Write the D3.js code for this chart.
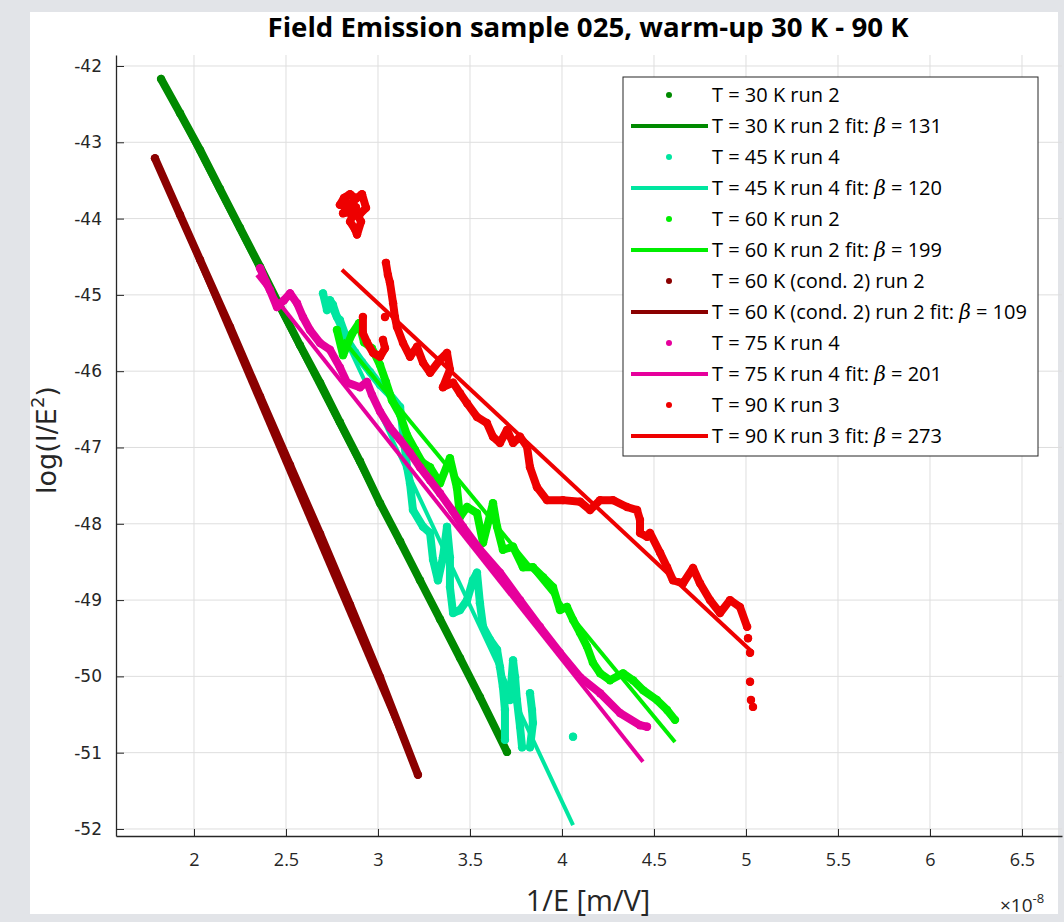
<!DOCTYPE html>
<html>
<head>
<meta charset="utf-8">
<script src="https://cdn.jsdelivr.net/npm/d3@7"></script>
<style>
body{margin:0;background:#e4e6ea;}
svg{display:block;}
</style>
</head>
<body>
<div id="plot"></div>
<script>
// ---- data ----
var xTicks = [2, 2.5, 3, 3.5, 4, 4.5, 5, 5.5, 6, 6.5];
var yTicks = [-42, -43, -44, -45, -46, -47, -48, -49, -50, -51, -52];

var labels = ['T = 30 K run 2', 'T = 45 K run 4', 'T = 60 K run 2',
	'T = 60 K (cond. 2) run 2', 'T = 75 K run 4', 'T = 90 K run 3'];
var betas = [131, 120, 199, 109, 201, 273];
var colors = ['#008a00', '#00e6a0', '#00ee00', '#8b0000', '#e6009c', '#ee0000'];

// measured points [1/E (x1e-8), log(I/E^2)], null = gap in the trace
var run30 = [[1.821,-42.17],[1.924,-42.62],[2.033,-43.10],[2.141,-43.61],[2.250,-44.12],[2.359,-44.63],
	[2.467,-45.15],[2.576,-45.66],[2.685,-46.15],[2.793,-46.67],[2.902,-47.18],[3.011,-47.73],
	[3.120,-48.23],[3.228,-48.74],[3.337,-49.25],[3.446,-49.76],[3.554,-50.27],[3.701,-50.99]];

var run45 = [[2.701,-44.98],[2.723,-45.20],[2.739,-45.07],[2.755,-45.13],[2.777,-45.29],[2.793,-45.33],
	[2.832,-45.59],[2.875,-45.75],[2.913,-45.88],[2.957,-46.01],[3.011,-46.18],[3.065,-46.31],
	[3.120,-46.47],[3.141,-46.90],[3.158,-47.26],[3.174,-47.47],[3.190,-47.82],[3.245,-48.04],
	[3.283,-48.12],[3.299,-48.47],[3.326,-48.74],[3.353,-48.44],[3.375,-48.04],[3.391,-48.44],
	[3.391,-48.83],[3.408,-49.17],[3.446,-49.13],[3.484,-49.00],[3.516,-48.74],[3.538,-48.64],
	[3.554,-49.04],[3.571,-49.35],[3.609,-49.52],[3.647,-49.65],[3.663,-49.88],[3.679,-50.14],
	[3.690,-50.44],[3.690,-50.83], null,
	[3.717,-50.31],[3.734,-49.79],[3.745,-50.01],[3.755,-50.31],[3.772,-50.66],[3.783,-50.93], null,
	[3.826,-50.22],[3.837,-50.44],[3.842,-50.61],[3.826,-50.93], null,
	[4.060,-50.79]];

var run60 = [[2.777,-45.46],[2.810,-45.79],[2.859,-45.51],[2.897,-45.37],[2.924,-45.62],[2.967,-45.70],
	[3.011,-45.92],[3.043,-46.14],[3.076,-46.38],[3.120,-46.57],[3.158,-46.84],[3.201,-47.03],
	[3.239,-47.19],[3.283,-47.26],[3.337,-47.47],[3.391,-47.14],[3.429,-47.53],[3.446,-47.91],
	[3.484,-47.78],[3.538,-47.86],[3.571,-48.25],[3.625,-47.73],[3.647,-48.04],[3.679,-48.34],
	[3.734,-48.30],[3.788,-48.57],[3.842,-48.57],[3.897,-48.70],[3.951,-48.83],[3.989,-49.13],
	[4.027,-49.09],[4.060,-49.26],[4.098,-49.43],[4.136,-49.61],[4.168,-49.82],[4.207,-49.96],
	[4.261,-50.05],[4.332,-49.96],[4.386,-50.05],[4.440,-50.18],[4.516,-50.31],[4.571,-50.44],
	[4.614,-50.57]];

var run60c2 = [[1.788,-43.21],[1.924,-43.95],[2.033,-44.54],[2.196,-45.42],[2.359,-46.33],[2.522,-47.23],
	[2.685,-48.13],[2.848,-49.06],[3.011,-50.01],[3.217,-51.29]];

var run75 = [[2.359,-44.65],[2.391,-44.83],[2.413,-44.94],[2.451,-45.16],[2.489,-45.07],[2.522,-44.98],
	[2.560,-45.11],[2.592,-45.29],[2.630,-45.46],[2.685,-45.63],[2.739,-45.72],[2.793,-45.95],
	[2.832,-46.15],[2.902,-46.21],[2.940,-46.14],[2.967,-46.31],[3.011,-46.53],[3.065,-46.74],
	[3.120,-46.90],[3.174,-47.07],[3.228,-47.26],[3.283,-47.43],[3.337,-47.60],[3.402,-47.82],
	[3.462,-48.04],[3.554,-48.34],[3.663,-48.64],[3.772,-49.00],[3.880,-49.35],[3.989,-49.69],
	[4.098,-50.01],[4.207,-50.22],[4.315,-50.48],[4.424,-50.64],[4.462,-50.66]];

var run90 = [[2.793,-43.82],[2.815,-43.73],[2.848,-43.68],[2.880,-43.74],[2.913,-43.68],[2.935,-43.86],
	[2.902,-43.94],[2.859,-43.91],[2.810,-43.93],[2.848,-43.80],[2.880,-43.85],[2.848,-44.04],
	[2.875,-44.14],[2.886,-44.21],[2.908,-44.04],[2.895,-43.98], null,
	[2.918,-45.29],[2.918,-45.50],[2.940,-45.62],[2.973,-45.76],[3.011,-45.81],[3.038,-45.70],
	[3.027,-45.59], null, [3.038,-45.29], null,
	[3.043,-44.58],[3.054,-44.74],[3.065,-44.84],[3.082,-45.11],[3.092,-45.29],[3.103,-45.42],
	[3.136,-45.63],[3.174,-45.81],[3.212,-45.68],[3.245,-45.89],[3.283,-46.02],[3.337,-45.85],
	[3.375,-45.76],[3.391,-45.98],[3.353,-46.21],[3.408,-46.15],[3.446,-46.29],[3.484,-46.42],
	[3.538,-46.60],[3.592,-46.68],[3.625,-46.86],[3.663,-46.94],[3.701,-46.77],[3.734,-46.94],
	[3.772,-46.86],[3.810,-46.99],[3.826,-47.26],[3.864,-47.52],[3.918,-47.69],[4.005,-47.69],
	[4.098,-47.71],[4.152,-47.82],[4.207,-47.69],[4.277,-47.69],[4.353,-47.78],[4.408,-47.82],
	[4.424,-47.95],[4.424,-48.12],[4.462,-48.17],[4.478,-48.12],[4.533,-48.38],[4.571,-48.57],
	[4.603,-48.74],[4.658,-48.78],[4.712,-48.58],[4.750,-48.78],[4.804,-49.00],[4.859,-49.17],
	[4.913,-49.00],[4.967,-49.09],[5.006,-49.35], null,
	[5.011,-49.50], null, [5.022,-49.69], null, [5.022,-50.07], null, [5.027,-50.31], null, [5.038,-50.40]];

// fit lines, two end points each
var fit30 = [[1.821,-42.17],[3.701,-50.99]];
var fit45 = [[2.701,-44.96],[4.060,-51.95]];
var fit60 = [[2.810,-45.59],[4.614,-50.86]];
var fit60c2 = [[1.788,-43.21],[3.217,-51.29]];
var fit75 = [[2.342,-44.74],[4.440,-51.12]];
var fit90 = [[2.804,-44.67],[5.038,-49.69]];

var runs = [run30, run45, run60, run60c2, run75, run90];
var fits = [fit30, fit45, fit60, fit60c2, fit75, fit90];

// ---- drawing environment ----
var W = 1064, H = 922;
var margin = {t:55, r:2, b:86, l:116};
var width = W - margin.l - margin.r,
	height = H - margin.t - margin.b;

var svg = d3.select('#plot')
	.append('svg')
	.attr('width', W)
	.attr('height', H);

// white figure area on the grey screen background
svg.append('rect')
	.attr('x', 0).attr('y', 0).attr('width', W).attr('height', H)
	.style('fill', '#e2e4e8');
svg.append('rect')
	.attr('x', 30).attr('y', 12).attr('width', 1028).attr('height', 902)
	.style('fill', '#ffffff');

var x = d3.scaleLinear().domain([1.5761, 6.7174]).range([0, width]);
var y = d3.scaleLinear().domain([-52.092, -41.856]).range([height, 0]);

var plot = svg.append('g')
	.attr('transform', 'translate(' + margin.l + ',' + margin.t + ')');

plot.append('defs').append('clipPath').attr('id', 'clip')
	.append('rect').attr('width', width).attr('height', height);

// grid
plot.append('g').selectAll('line').data(xTicks).enter().append('line')
	.attr('x1', function(d){ return x(d); }).attr('x2', function(d){ return x(d); })
	.attr('y1', 0).attr('y2', height)
	.style('stroke', '#dedede').style('stroke-width', 1);
plot.append('g').selectAll('line').data(yTicks).enter().append('line')
	.attr('x1', 0).attr('x2', width)
	.attr('y1', function(d){ return y(d); }).attr('y2', function(d){ return y(d); })
	.style('stroke', '#dedede').style('stroke-width', 1);

// axes
var xAxis = d3.axisBottom(x).tickValues(xTicks).tickSizeInner(-7).tickSizeOuter(0)
	.tickPadding(17).tickFormat(d3.format('~g'));
var yAxis = d3.axisLeft(y).tickValues(yTicks).tickSizeInner(-8).tickSizeOuter(0)
	.tickPadding(14).tickFormat(function(d){ return '-' + Math.abs(d); });

var gx = plot.append('g').attr('transform', 'translate(0,' + height + ')').call(xAxis);
gx.selectAll('text').style('font-family', 'Open Sans').style('font-size', '18px').style('fill', '#262626');
var gy = plot.append('g').call(yAxis);
gy.selectAll('text').style('font-family', 'DejaVu Sans').style('font-size', '17px').style('fill', '#262626');
plot.selectAll('.domain').style('stroke', '#262626').style('stroke-width', 1.3);
plot.selectAll('.tick line').style('stroke', '#262626');

// series
var line = d3.line()
	.defined(function(d){ return d !== null; })
	.x(function(d){ return x(d[0]); })
	.y(function(d){ return y(d[1]); });

var marks = plot.append('g').attr('clip-path', 'url(#clip)');

runs.forEach(function(run, i){
	marks.append('path')
		.attr('d', line(run))
		.style('fill', 'none')
		.style('stroke', colors[i])
		.style('stroke-width', 8)
		.style('stroke-linecap', 'round')
		.style('stroke-linejoin', 'round');
	marks.append('g').selectAll('circle')
		.data(run.filter(function(d){ return d !== null; }))
		.enter().append('circle')
		.attr('cx', function(d){ return x(d[0]); })
		.attr('cy', function(d){ return y(d[1]); })
		.attr('r', 4.2)
		.style('fill', colors[i]);
	marks.append('path')
		.attr('d', line(fits[i]))
		.style('fill', 'none')
		.style('stroke', colors[i])
		.style('stroke-width', 4);
});

// title and axis labels
svg.append('text')
	.attr('x', 588).attr('y', 37)
	.attr('text-anchor', 'middle')
	.style('font-family', 'Open Sans').style('font-weight', 'bold').style('font-size', '26px')
	.style('fill', '#000')
	.attr('textLength', 641).attr('lengthAdjust', 'spacingAndGlyphs')
	.text('Field Emission sample 025, warm-up 30 K - 90 K');

svg.append('text')
	.attr('x', 588).attr('y', 911)
	.attr('text-anchor', 'middle')
	.style('font-family', 'Open Sans').style('font-size', '29px').style('fill', '#262626')
	.text('1/E [m/V]');

var ex = svg.append('text')
	.attr('x', 1000).attr('y', 912)
	.style('font-family', 'Open Sans').style('font-size', '19px').style('fill', '#262626');
ex.append('tspan').text('\u00d710');
ex.append('tspan').attr('dy', -9).style('font-size', '13px').text('-8');

var yl = svg.append('text')
	.attr('transform', 'translate(56,' + 440 + ') rotate(-90)')
	.attr('text-anchor', 'middle')
	.style('font-family', 'DejaVu Sans').style('font-size', '27px').style('fill', '#262626');
yl.append('tspan').text('log(I/E');
yl.append('tspan').attr('dy', -12).style('font-size', '18px').text('2');
yl.append('tspan').attr('dy', 12).text(')');

// legend
var leg = svg.append('g').attr('transform', 'translate(623,77)');
leg.append('rect')
	.attr('width', 415).attr('height', 379)
	.style('fill', '#fff').style('stroke', '#262626').style('stroke-width', 1);

var rowH = 31;
labels.forEach(function(lab, i){
	var cy1 = 18 + rowH * (2 * i),
		cy2 = 18 + rowH * (2 * i + 1);
	leg.append('circle').attr('cx', 46).attr('cy', cy1).attr('r', 3).style('fill', colors[i]);
	leg.append('text').attr('x', 89).attr('y', cy1 + 7)
		.style('font-family', 'Open Sans').style('font-size', '20px').style('fill', '#000')
		.text(lab);
	leg.append('line').attr('x1', 8).attr('x2', 85).attr('y1', cy2).attr('y2', cy2)
		.style('stroke', colors[i]).style('stroke-width', 4);
	var t = leg.append('text').attr('x', 89).attr('y', cy2 + 7)
		.style('font-family', 'Open Sans').style('font-size', '20px').style('fill', '#000');
	t.append('tspan').text(lab + ' fit: ');
	t.append('tspan').style('font-family', 'DejaVu Serif').style('font-style', 'italic').text('\u03b2');
	t.append('tspan').text(' = ' + betas[i]);
});
</script>
</body>
</html>
